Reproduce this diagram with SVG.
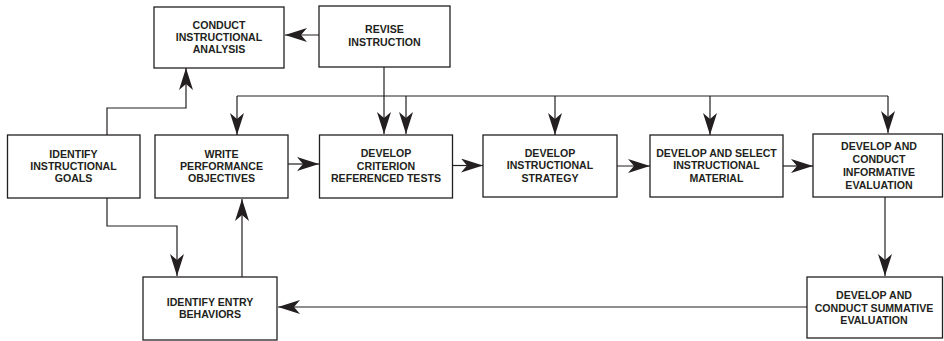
<svg xmlns="http://www.w3.org/2000/svg" width="944" height="341" viewBox="0 0 944 341">
<defs>
<style>
.box{fill:#fff;stroke:#231f20;stroke-width:1.3}
.lbl{font-family:"Liberation Sans",Arial,Helvetica,sans-serif;font-weight:bold;font-size:10.6px;fill:#231f20;text-anchor:middle}
.con{fill:none;stroke:#231f20;stroke-width:1.2}
</style>
<marker id="ah" markerUnits="userSpaceOnUse" viewBox="0 0 22 14" refX="22" refY="7" markerWidth="22" markerHeight="14" orient="auto">
<path d="M0,0 L22,7 L0,14 L6,7 Z" fill="#231f20"/>
</marker>
</defs>
<rect width="944" height="341" fill="#fff"/>
<g id="connectors">
<path class="con" d="M319,35 H285" marker-end="url(#ah)"/>
<path class="con" d="M384,67 V134" marker-end="url(#ah)"/>
<path class="con" d="M237,96 H888"/>
<path class="con" d="M237,96 V135" marker-end="url(#ah)"/>
<path class="con" d="M406,96 V134" marker-end="url(#ah)"/>
<path class="con" d="M555,96 V135" marker-end="url(#ah)"/>
<path class="con" d="M710,96 V135" marker-end="url(#ah)"/>
<path class="con" d="M888,96 V133" marker-end="url(#ah)"/>
<path class="con" d="M107,135 V108 H186 V68" marker-end="url(#ah)"/>
<path class="con" d="M107,198 V226 H177 V276" marker-end="url(#ah)"/>
<path class="con" d="M242,277 V199" marker-end="url(#ah)"/>
<path class="con" d="M288,164 H319" marker-end="url(#ah)"/>
<path class="con" d="M453,165.5 H483" marker-end="url(#ah)"/>
<path class="con" d="M617,166 H650" marker-end="url(#ah)"/>
<path class="con" d="M783,166 H813" marker-end="url(#ah)"/>
<path class="con" d="M885,197 V276" marker-end="url(#ah)"/>
<path class="con" d="M807,307 H278" marker-end="url(#ah)"/>
</g>
<g id="conduct">
<rect class="box" x="154" y="7" width="130" height="61"/>
<text class="lbl" x="219" y="28.5">CONDUCT</text>
<text class="lbl" x="219" y="40.7">INSTRUCTIONAL</text>
<text class="lbl" x="219" y="53">ANALYSIS</text>
</g>
<g id="revise">
<rect class="box" x="319" y="6" width="131" height="61"/>
<text class="lbl" x="384.5" y="33.3">REVISE</text>
<text class="lbl" x="384.5" y="46">INSTRUCTION</text>
</g>
<g id="goals">
<rect class="box" x="7.5" y="135" width="132.5" height="63"/>
<text class="lbl" x="73.5" y="157.5">IDENTIFY</text>
<text class="lbl" x="73.5" y="169.8">INSTRUCTIONAL</text>
<text class="lbl" x="73.5" y="182">GOALS</text>
</g>
<g id="objectives">
<rect class="box" x="155" y="135" width="133" height="63"/>
<text class="lbl" x="221.5" y="157.5">WRITE</text>
<text class="lbl" x="221.5" y="169.8">PERFORMANCE</text>
<text class="lbl" x="221.5" y="182">OBJECTIVES</text>
</g>
<g id="criterion">
<rect class="box" x="319.5" y="135" width="133" height="63"/>
<text class="lbl" x="386" y="157.3">DEVELOP</text>
<text class="lbl" x="386" y="169.7">CRITERION</text>
<text class="lbl" x="386" y="182">REFERENCED TESTS</text>
</g>
<g id="strategy">
<rect class="box" x="483" y="135" width="134" height="62"/>
<text class="lbl" x="550" y="157">DEVELOP</text>
<text class="lbl" x="550" y="169.4">INSTRUCTIONAL</text>
<text class="lbl" x="550" y="181.7">STRATEGY</text>
</g>
<g id="material">
<rect class="box" x="650" y="135" width="133" height="62"/>
<text class="lbl" x="716.5" y="157">DEVELOP AND SELECT</text>
<text class="lbl" x="716.5" y="169.4">INSTRUCTIONAL</text>
<text class="lbl" x="716.5" y="181.7">MATERIAL</text>
</g>
<g id="informative">
<rect class="box" x="813" y="134" width="129.5" height="63"/>
<text class="lbl" x="879" y="150">DEVELOP AND</text>
<text class="lbl" x="879" y="163">CONDUCT</text>
<text class="lbl" x="879" y="176">INFORMATIVE</text>
<text class="lbl" x="879" y="189">EVALUATION</text>
</g>
<g id="entry">
<rect class="box" x="143" y="277" width="134" height="63"/>
<text class="lbl" x="210" y="306">IDENTIFY ENTRY</text>
<text class="lbl" x="210" y="317.7">BEHAVIORS</text>
</g>
<g id="summative">
<rect class="box" x="807" y="277" width="135.5" height="61"/>
<text class="lbl" x="874" y="299.3">DEVELOP AND</text>
<text class="lbl" x="874" y="311.7">CONDUCT SUMMATIVE</text>
<text class="lbl" x="874" y="323.5">EVALUATION</text>
</g>
</svg>
